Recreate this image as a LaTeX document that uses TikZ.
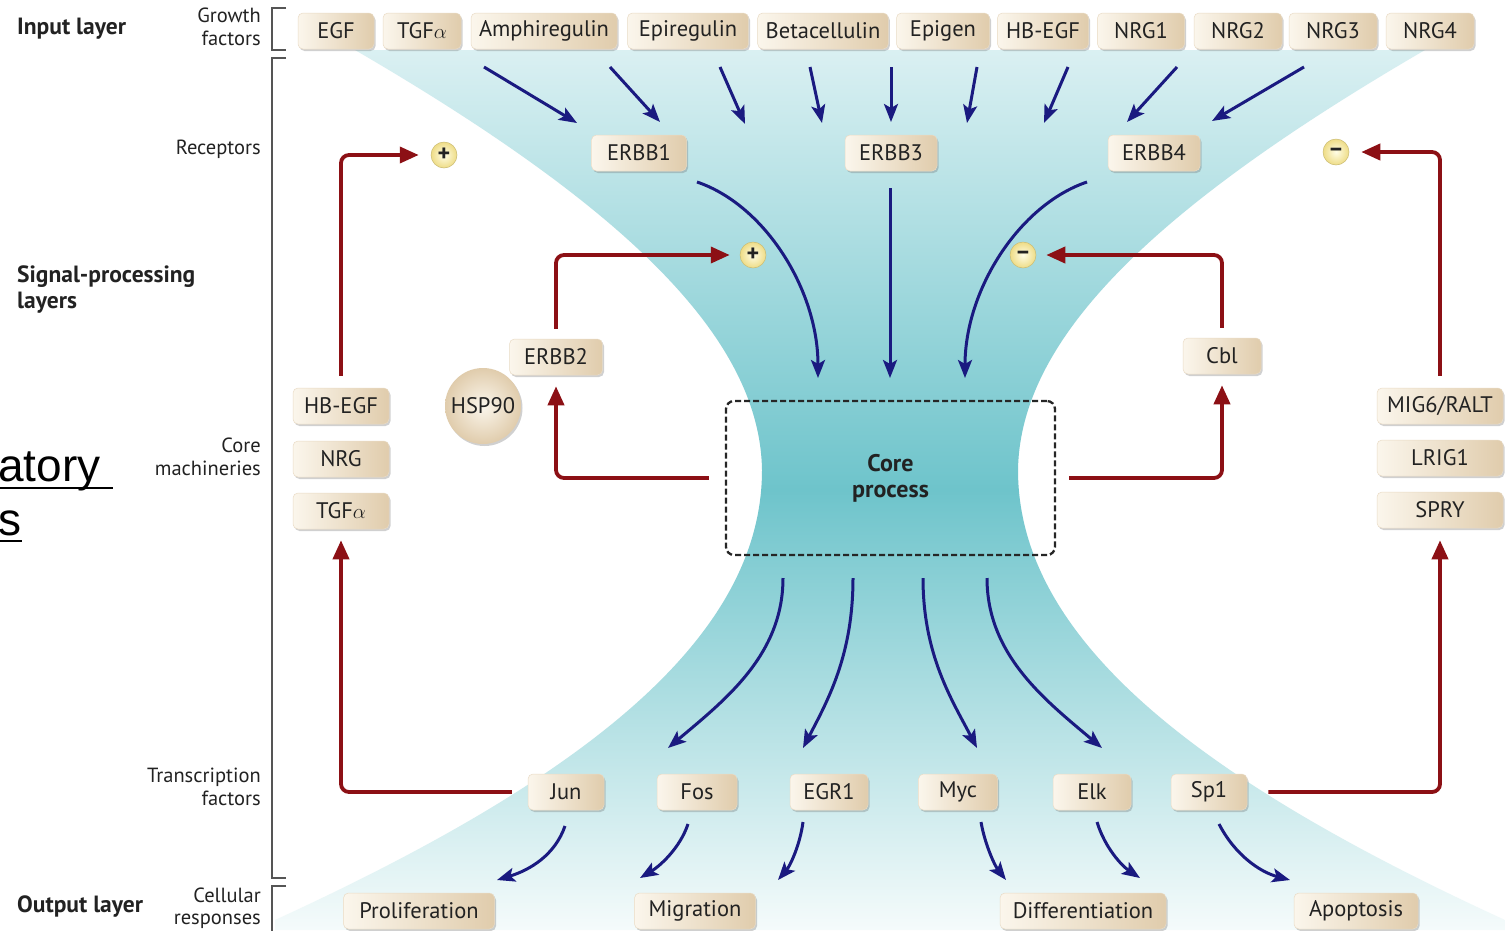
\documentclass[tikz,border=0pt]{standalone}
\usepackage{fontspec}
\setmainfont{PT Sans}
\newfontfamily\slidefont{Liberation Sans}
\usetikzlibrary{arrows.meta,shadows}

\definecolor{navyarrow}{HTML}{1A1A80}
\definecolor{feedred}{HTML}{8C1015}
\definecolor{boxlight}{HTML}{FBF6EC}
\definecolor{boxdark}{HTML}{E0CCAC}
\definecolor{tealdark}{HTML}{6EC4CB}
\definecolor{teallight}{HTML}{DAF0F2}
\definecolor{tealpale}{HTML}{F5FBFB}
\definecolor{signin}{HTML}{FFFDE6}
\definecolor{signout}{HTML}{EEDC86}
\definecolor{labelgray}{HTML}{222222}
\definecolor{bracketgray}{HTML}{555555}

\newcommand\boxfont{\fontsize{22.5}{26}\selectfont}
\newcommand\sidefont{\fontsize{20.5}{22.5}\selectfont}
\newcommand\layerfont{\bfseries\fontsize{23.5}{26}\selectfont}

\begin{document}
\begin{tikzpicture}[x=1pt, y=-1pt,
    molbox/.style={rounded corners=5pt, minimum height=36pt, inner xsep=8pt,
      left color=boxlight, right color=boxdark, draw=boxdark!70!white, line width=0.5pt,
      drop shadow={shadow xshift=1.5pt, shadow yshift=-2pt, opacity=0.3, fill=black!60},
      font=\boxfont, text=labelgray},
    hspball/.style={circle, minimum size=76pt, inner sep=0pt, inner color=boxlight, outer color=boxdark,
      drop shadow={shadow xshift=1.5pt, shadow yshift=-2pt, opacity=0.3, fill=black!60},
      font=\boxfont, text=labelgray},
    sign/.style={circle, minimum size=26pt, inner sep=0pt, inner color=signin, outer color=signout,
      draw=signout!85!black, line width=0.5pt, font=\bfseries\fontsize{24}{24}\selectfont, text=labelgray},
    sidelabel/.style={anchor=east, align=right, inner sep=0pt, font=\sidefont, text=labelgray},
    layerlabel/.style={anchor=west, align=left, inner sep=0pt, font=\layerfont, text=labelgray},
    bracket/.style={bracketgray, line width=1.4pt},
    sigarrow/.style={navyarrow, line width=3pt, -{Stealth[length=18pt, width=14pt, inset=4pt]}},
    feedback/.style={feedred, line width=3.8pt, rounded corners=8pt, -{Triangle[length=19pt, width=16pt]}}]

    \useasboundingbox (0,0) rectangle (1505,930);
    \clip (0,0) rectangle (1505,930);
    \fill[white] (0,0) rectangle (1505,930);

    % Hourglass background
    \shade[top color=teallight, bottom color=tealpale, middle color=tealdark]
      (355,50) -- (1425,50)
      .. controls (1150,210) and (1020,340) .. (1018,470)
      .. controls (1018,640) and (1200,780) .. (1505,920)
      -- (1505,930) -- (275,930) -- (275,920)
      .. controls (580,780) and (762,640) .. (762,470)
      .. controls (760,340) and (630,210) .. (355,50) -- cycle;

    % Layer labels
    \node[layerlabel] (inlayer) at (17,29) {Input layer};
    \node[layerlabel] (siglayer) at (17,290) {Signal-processing\\layers};
    \node[layerlabel] (outlayer) at (17,907) {Output layer};

    \node[sidelabel] (gflab) at (261,27) {Growth\\factors};
    \node[sidelabel] (rclab) at (261,149) {Receptors};
    \node[sidelabel] (cmlab) at (261,457) {Core\\machineries};
    \node[sidelabel] (tflab) at (261,787) {Transcription\\factors};
    \node[sidelabel] (crlab) at (261,908) {Cellular\\responses};

    % Brackets
    \draw[bracket] (286,8) -- (272,8) -- (272,50) -- (286,50);
    \draw[bracket] (286,58) -- (272,58) -- (272,878) -- (286,878);
    \draw[bracket] (286,886) -- (272,886) -- (272,940);

    % Slide text cut at the left edge
    \node[anchor=base west, inner sep=0pt, font=\slidefont\fontsize{46}{50}\selectfont] (atory) at (-2,481) {atory};
    \node[anchor=base west, inner sep=0pt, font=\slidefont\fontsize{46}{50}\selectfont] (tails) at (-2,535) {s};
    \draw[line width=2.6pt] (0,488) -- (113,488);
    \draw[line width=2.6pt] (0,541) -- (22,541);

    % Growth factors
    \foreach \nm/\txt/\cx/\bw in {egf/EGF/336/76, tgfa/TGF$\alpha$/422/78, amph/Amphiregulin/544/146,
        epir/Epiregulin/688/121, btc/Betacellulin/823/130, epgn/Epigen/943/93, hbegf/HB-EGF/1043/91,
        nrga/NRG1/1141/87, nrgb/NRG2/1238/88, nrgc/NRG3/1333/88, nrgd/NRG4/1430/88}
      \node[molbox, minimum width=\bw] (\nm) at (\cx,31) {\txt};

    % Receptors
    \node[molbox, minimum width=95] (erbb1) at (639,153) {ERBB1};
    \node[molbox, minimum width=92] (erbb3) at (891,153) {ERBB3};
    \node[molbox, minimum width=92] (erbb4) at (1154,153) {ERBB4};
    \node[molbox, minimum width=93] (erbb2) at (556,357) {ERBB2};
    \node[molbox, minimum width=78] (cbl) at (1222,356) {Cbl};
    \node[hspball] (hsp) at (483,406) {HSP90};

    % Core machineries
    \node[molbox, minimum width=96] (hbegfl) at (341,406) {HB-EGF};
    \node[molbox, minimum width=96] (nrgl) at (341,459) {NRG};
    \node[molbox, minimum width=96] (tgfal) at (341,511) {TGF$\alpha$};
    \node[molbox, minimum width=126] (mig6) at (1440,406) {MIG6/RALT};
    \node[molbox, minimum width=126] (lrig1) at (1440,458) {LRIG1};
    \node[molbox, minimum width=126] (spry) at (1440,510) {SPRY};

    \node[draw=black!85, dash pattern=on 6pt off 3pt, line width=2.3pt, rounded corners=8pt,
      minimum width=329pt, minimum height=154pt, align=center,
      font=\bfseries\fontsize{24}{26}\selectfont, text=labelgray] (core) at (890.5,478) {Core\\process};

    % Signs
    \node[sign] (plusa) at (444,155) {+};
    \node[sign] (plusb) at (753,255) {+};
    \node[sign] (minusa) at (1023,255) {--};
    \node[sign] (minusb) at (1336,152) {--};

    % Transcription factors
    \foreach \nm/\txt/\cx/\bw in {jun/Jun/566/76, fos/Fos/697/80, egr1/EGR1/829/78,
        myc/Myc/958/79, elk/Elk/1092/78, sp1/Sp1/1209/76}
      \node[molbox, minimum width=\bw] (\nm) at (\cx,792) {\txt};

    % Cellular responses
    \foreach \nm/\txt/\cx/\bw in {prolif/Proliferation/419/151, migr/Migration/695/121,
        diff/Differentiation/1083/166, apop/Apoptosis/1356/124}
      \node[molbox, minimum width=\bw] (\nm) at (\cx,911) {\txt};

    % Growth factors to receptors
    \foreach \sx/\ex/\ey [count=\i] in {484/577/123, 610/660/122, 720/745/124, 810/822/123, 891/891/122,
        977/967/123, 1068/1044/123, 1177/1127/122, 1304/1212/121} {
      \coordinate (gf\i) at (\sx,67);
      \coordinate (rc\i) at (\ex,\ey);
      \draw[sigarrow] (gf\i) -- (rc\i);
    }

    % Receptors to core
    \coordinate (erbb1out) at (697,182);
    \coordinate (erbb3out) at (890,188);
    \coordinate (erbb4out) at (1087,182);
    \coordinate (corein1) at (818,378);
    \coordinate (corein2) at (890,378);
    \coordinate (corein3) at (965,378);
    \draw[sigarrow] (erbb1out) .. controls (765,205) and (818,290) .. (corein1);
    \draw[sigarrow] (erbb3out) -- (corein2);
    \draw[sigarrow] (erbb4out) .. controls (1019,205) and (965,290) .. (corein3);

    % Core to transcription factors
    \foreach \sx/\ax/\bx/\ex [count=\i] in {783/783/725/668, 853/853/828/803, 923/923/952/977, 987/987/1045/1102} {
      \coordinate (coreout\i) at (\sx,578);
      \coordinate (tfin\i) at (\ex,748);
      \draw[sigarrow] (coreout\i) .. controls (\ax,655) and (\bx,700) .. (tfin\i);
    }

    % Transcription factors to cellular responses
    \coordinate (junout) at (565,826);   \coordinate (prolifin) at (497,880);
    \coordinate (fosout) at (688,824);   \coordinate (migrin) at (640,878);
    \coordinate (egrout) at (803,822);   \coordinate (egrend) at (778,880);
    \coordinate (mycout) at (981,822);   \coordinate (diffin) at (1006,880);
    \coordinate (elkout) at (1097,822);  \coordinate (elkend) at (1140,878);
    \coordinate (spout) at (1219,824);   \coordinate (apopin) at (1290,880);
    \draw[sigarrow] (junout) .. controls (555,855) and (530,870) .. (prolifin);
    \draw[sigarrow] (fosout) .. controls (680,848) and (660,866) .. (migrin);
    \draw[sigarrow] (egrout) .. controls (800,845) and (790,866) .. (egrend);
    \draw[sigarrow] (mycout) .. controls (985,845) and (995,866) .. (diffin);
    \draw[sigarrow] (elkout) .. controls (1105,848) and (1122,866) .. (elkend);
    \draw[sigarrow] (spout) .. controls (1235,855) and (1260,872) .. (apopin);

    % Feedback loops
    \draw[feedback, shorten <=16pt, shorten >=11pt] (jun.west) -| (tgfal.south);
    \draw[feedback, shorten <=12pt, shorten >=12pt] (hbegfl.north) |- (plusa.west);
    \draw[feedback, shorten <=10pt, shorten >=10pt] (erbb2.north) |- (plusb.west);
    \draw[feedback, shorten <=16pt, shorten >=11pt] (core.west) -| (erbb2.south);
    \draw[feedback, shorten <=13pt, shorten >=11pt] (core.east) -| (cbl.south);
    \draw[feedback, shorten <=10pt, shorten >=10pt] (cbl.north) |- (minusa.east);
    \draw[feedback, shorten <=12pt, shorten >=12pt] (mig6.north) |- (minusb.east);
    \draw[feedback, shorten <=21pt, shorten >=12pt] (sp1.east) -| (spry.south);

\end{tikzpicture}
\end{document}
